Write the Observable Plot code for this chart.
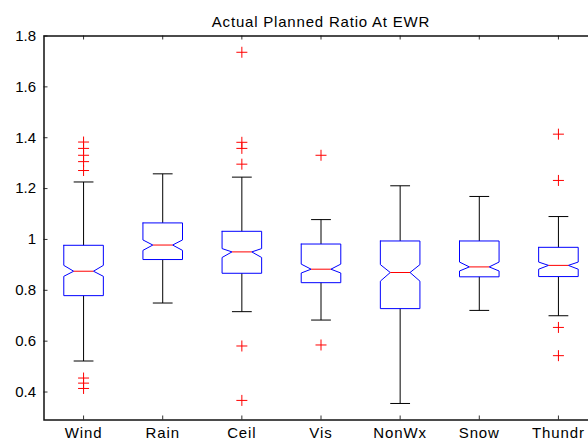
<!DOCTYPE html>
<html><head><meta charset="utf-8">
<script src="https://cdn.jsdelivr.net/npm/d3@7"></script>
<script src="https://cdn.jsdelivr.net/npm/@observablehq/plot@0.6"></script>
<style>
html,body{margin:0;padding:0;overflow:hidden;background:#fff;width:588px;height:442px}
#chart svg{display:block}
g[aria-label="x-axis tick label"] text {letter-spacing:0.9px}
g[aria-label="text"] text, text[aria-label="title"] {letter-spacing:0.8px}
</style></head><body><div id="chart"></div>
<script>
const title = "Actual Planned Ratio At EWR";
const categories = ["Wind","Rain","Ceil","Vis","NonWx","Snow","Thundr"];
const q1        = [0.779,0.921,0.867,0.830,0.728,0.853,0.854];
const median    = [0.875,0.978,0.951,0.883,0.870,0.892,0.898];
const q3        = [0.977,1.065,1.032,0.982,0.994,0.994,0.969];
const notchLo   = [0.855,0.957,0.929,0.868,0.836,0.876,0.883];
const notchHi   = [0.898,0.998,0.964,0.903,0.901,0.911,0.911];
const whiskerLo = [0.522,0.750,0.716,0.683,0.355,0.721,0.700];
const whiskerHi = [1.226,1.258,1.245,1.078,1.211,1.169,1.090];
const outliers  = [
  [1.383,1.358,1.331,1.306,1.271,0.455,0.435,0.414],
  [],
  [1.736,1.382,1.358,1.296,0.581,0.367],
  [1.331,0.585],
  [],
  [],
  [1.414,1.232,0.654,0.543]
];
const yTicks = [0.4,0.6,0.8,1,1.2,1.4,1.6,1.8];

// geometry constants (in category units)
const HW = 0.25, NW = 0.125, CAP = 0.125;
const W = 598, H = 442, ML = 43.5, MR = 0.5, MT = 35.5, MB = 22.5;
const frameW = W - ML - MR, frameH = H - MT - MB;

const pos = categories.map((c, i) => i + 1);
const boxPts = categories.flatMap((c, i) => {
  const x = pos[i];
  return [
    [x - HW, q3[i]], [x + HW, q3[i]], [x + HW, notchHi[i]], [x + NW, median[i]],
    [x + HW, notchLo[i]], [x + HW, q1[i]], [x - HW, q1[i]], [x - HW, notchLo[i]],
    [x - NW, median[i]], [x - HW, notchHi[i]], [x - HW, q3[i]]
  ].map(([px, py]) => ({cat: c, x: px, y: py}));
});
const rows = categories.map((c, i) => ({
  x: pos[i], q1: q1[i], q3: q3[i], med: median[i], lo: whiskerLo[i], hi: whiskerHi[i]
}));
const outlierData = categories.flatMap((c, i) => outliers[i].map(v => ({x: pos[i], y: v})));

const plus = {
  draw(context, size) {
    const r = Math.sqrt(size / Math.PI);
    context.moveTo(-r, 0); context.lineTo(r, 0);
    context.moveTo(0, -r); context.lineTo(0, r);
  }
};

const chart = Plot.plot({
  width: W, height: H,
  marginLeft: ML, marginRight: MR, marginTop: MT, marginBottom: MB,
  style: {fontFamily: "'Liberation Sans', Arial, Helvetica, sans-serif", fontSize: "15px", maxWidth: "none", background: "white", color: "black"},
  x: {domain: [0.5, 7.5], label: null},
  y: {domain: [0.29, 1.8], label: null},
  marks: [
    // whiskers
    Plot.link(rows, {x1: "x", x2: "x", y1: "q3", y2: "hi", stroke: "black", strokeWidth: 1}),
    Plot.link(rows, {x1: "x", x2: "x", y1: "q1", y2: "lo", stroke: "black", strokeWidth: 1}),
    Plot.link(rows, {x1: d => d.x - CAP, x2: d => d.x + CAP, y1: "hi", y2: "hi", stroke: "black", strokeWidth: 1}),
    Plot.link(rows, {x1: d => d.x - CAP, x2: d => d.x + CAP, y1: "lo", y2: "lo", stroke: "black", strokeWidth: 1}),
    // boxes
    Plot.line(boxPts, {x: "x", y: "y", z: "cat", stroke: "#0000ff", strokeWidth: 1, curve: "linear"}),
    // medians
    Plot.link(rows, {x1: d => d.x - NW, x2: d => d.x + NW, y1: "med", y2: "med", stroke: "#ff0000", strokeWidth: 1}),
    // outliers
    Plot.dot(outlierData, {x: "x", y: "y", symbol: plus, r: 5.5, stroke: "#ff0000", fill: "none", strokeWidth: 1}),
    // inward ticks
    Plot.ruleX(pos, {x: d => d, insetTop: frameH - 4, stroke: "#333", strokeWidth: 1}),
    Plot.ruleX(pos, {x: d => d, insetBottom: frameH - 4, stroke: "#333", strokeWidth: 1}),
    Plot.ruleY(yTicks, {y: d => d, insetRight: frameW - 4, stroke: "#333", strokeWidth: 1}),
    // axes
    Plot.axisY({ticks: yTicks, tickSize: 0, tickPadding: 8, tickFormat: d => String(d), label: null}),
    Plot.axisX({ticks: pos, tickSize: 0, tickPadding: 7, tickFormat: d => categories[d - 1], label: null}),
    Plot.frame({stroke: "#111", strokeWidth: 1.5}),
    Plot.text([title], {frameAnchor: "top", dy: -20, fontSize: 15, ariaLabel: "title"})
  ]
});
document.getElementById("chart").appendChild(chart);
</script>
</body></html>
